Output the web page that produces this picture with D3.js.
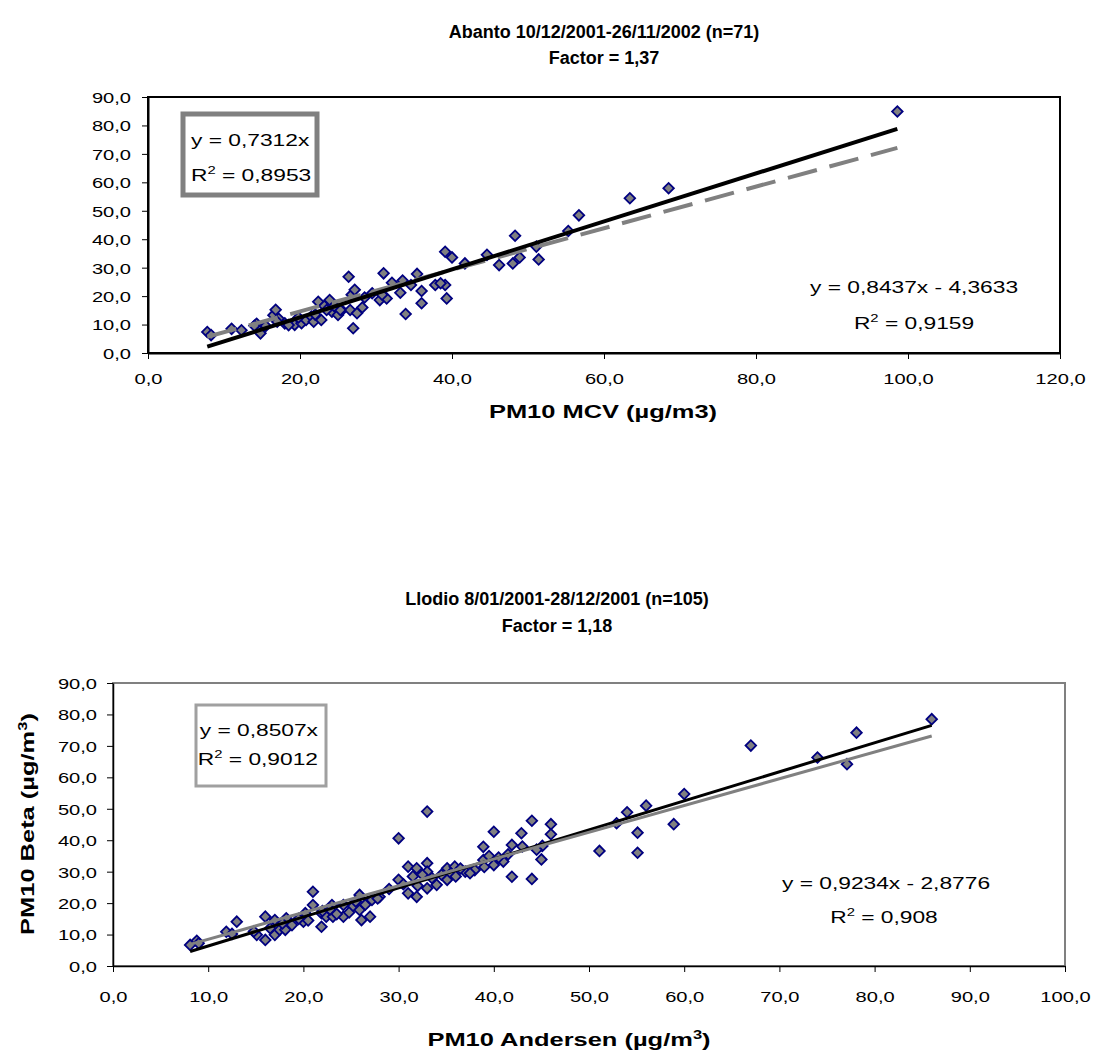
<!DOCTYPE html>
<html>
<head>
<meta charset="utf-8">
<script src="https://cdn.jsdelivr.net/npm/d3@7"></script>
<style>
  body { margin: 0; background: #fff; }
  text { font-family: "Liberation Sans", Arial, sans-serif; fill: #000; }
</style>
</head>
<body>
<div id="chart"></div>
<script>
// Abanto: PM10 MCV (x) vs PM10 Beta (y)
const abantoX = [7.8, 8.3, 11.0, 12.3, 14.3, 14.8, 15.5, 16.5, 16.8, 17.2, 18.0, 19.3, 20.2,
  20.8, 21.5, 21.8, 22.4, 22.8, 23.2, 23.9, 24.2, 25.0, 25.5, 26.4, 26.6, 26.8, 27.2, 27.5, 27.0, 28.2,
  30.5, 31.0, 31.4, 32.1, 33.2, 33.9, 34.6, 35.4, 36.0, 36.0, 37.8, 39.1, 39.3, 39.1, 40.0, 41.7,
  44.6, 46.2, 48.0, 48.9, 48.3, 51.4, 51.1, 55.3, 56.7, 63.4, 68.5, 98.6,
  23.5, 25.3, 18.5, 14.0, 17.0, 19.8, 22.0, 24.5, 28.5, 29.5, 30.8, 33.5, 38.5];
const abantoY = [7.4, 6.3, 8.5, 8.0, 10.3, 6.9, 9.5, 13.3, 15.2, 12.0, 10.4, 9.9, 10.5,
  11.6, 12.8, 11.0, 18.0, 11.6, 16.5, 18.6, 14.5, 13.4, 15.0, 26.8, 15.1, 20.5, 22.2, 14.0, 8.7, 16.0,
  18.6, 28.0, 19.2, 24.7, 21.2, 13.7, 23.9, 27.8, 21.8, 17.5, 23.9, 23.9, 19.2, 35.6, 33.6, 31.5,
  34.5, 30.9, 31.5, 33.6, 41.2, 32.9, 37.4, 42.9, 48.4, 54.4, 57.9, 84.9,
  15.1, 15.1, 9.8, 9.6, 11.0, 12.5, 13.5, 16.5, 19.5, 21.0, 20.5, 25.5, 24.5];

// Llodio: PM10 Andersen (x) vs PM10 Beta (y)
const llodioX = [8.1, 8.8, 11.9, 13.0, 15.1, 16.0, 16.0, 17.0, 17.0, 17.5, 18.1, 18.2, 20.0, 20.2, 21.0,
  21.0, 21.9, 21.9, 22.4, 23.0, 23.1, 24.2, 24.2, 25.2, 25.9, 25.9, 26.1, 27.0, 27.2, 28.0,
  30.0, 30.0, 31.0, 31.0, 31.9, 31.9, 33.0, 33.0, 33.0, 33.0, 34.0, 35.1, 35.1, 35.9, 37.0,
  38.0, 38.9, 38.9, 40.0, 40.0, 41.0, 41.9, 41.9, 42.9, 44.0, 44.0, 45.0, 45.1, 46.0, 46.0,
  51.1, 52.9, 54.0, 55.1, 55.1, 56.0, 58.9, 60.0, 67.0, 74.0, 77.1, 78.1, 86.0,
  9.0, 12.5, 14.8, 16.5, 17.8, 18.8, 19.5, 20.5, 22.0, 22.8, 23.5, 24.8, 25.5, 26.5, 27.8, 29.0,
  30.5, 31.5, 32.0, 32.5, 33.5, 34.5, 35.5, 36.5, 37.5, 39.0, 39.5, 40.5, 41.5, 43.0, 44.5, 36.0];
const llodioY = [6.7, 8.0, 10.9, 14.1, 9.9, 15.7, 8.3, 14.6, 9.9, 11.5, 11.5, 15.2, 14.1, 16.8, 23.6,
  19.4, 16.8, 12.5, 15.7, 19.4, 15.7, 15.7, 19.4, 18.9, 22.6, 17.8, 14.6, 15.7, 21.0, 22.0,
  40.6, 27.4, 31.6, 23.1, 31.1, 22.0, 49.1, 32.7, 30.0, 24.7, 25.8, 27.4, 31.1, 31.6, 30.0,
  30.5, 37.9, 33.7, 42.7, 32.1, 33.2, 38.5, 28.4, 42.2, 46.2, 27.7, 33.9, 38.2, 45.1, 41.9,
  36.6, 45.4, 48.9, 42.4, 36.0, 51.0, 45.1, 54.7, 70.1, 66.3, 64.2, 74.2, 78.5,
  7.2, 10.2, 11.0, 12.0, 13.5, 13.0, 15.0, 14.5, 17.5, 18.0, 16.5, 17.0, 20.5, 19.5, 21.5, 24.5,
  26.0, 28.5, 25.5, 29.0, 28.0, 29.0, 29.5, 31.0, 29.5, 31.5, 35.0, 34.5, 35.5, 38.0, 37.0, 28.5];

// trendlines: [slope, intercept]
const abantoFit = [0.8437, -4.3633];
const abantoFit0 = [0.7312, 0];
const llodioFit = [0.9234, -2.8776];
const llodioFit0 = [0.8507, 0];

const abantoXTicks = [0, 20, 40, 60, 80, 100, 120];
const llodioXTicks = [0, 10, 20, 30, 40, 50, 60, 70, 80, 90, 100];
const yTicks = [0, 10, 20, 30, 40, 50, 60, 70, 80, 90];

const fmt = d => d.toFixed(1).replace(".", ",");
const K = 1.34; // the original chart text is stretched sideways

const svg = d3.select("#chart").append("svg")
  .attr("width", 1094).attr("height", 1054);

// text placed at (x,y), widened by k
function label(x, y, anchor, size, bold, k, extra) {
  return svg.append("text")
    .attr("transform", "translate(" + x + "," + y + ")" + (extra || "") + " scale(" + k + ",1)")
    .attr("text-anchor", anchor)
    .style("font-size", size + "px")
    .style("font-weight", bold ? "bold" : "normal");
}

function sup(sel, base, s, rest) {
  sel.append("tspan").text(base);
  sel.append("tspan").attr("dy", -7).style("font-size", "0.65em").text(s);
  sel.append("tspan").attr("dy", 7).text(rest);
  return sel;
}

function drawChart(opt) {
  const x = d3.scaleLinear().domain(opt.xDomain).range([opt.left, opt.right]);
  const y = d3.scaleLinear().domain([0, 90]).range([opt.bottom, opt.top]);
  const g = svg.append("g");

  g.append("rect")
    .attr("x", opt.left).attr("y", opt.top)
    .attr("width", opt.right - opt.left).attr("height", opt.bottom - opt.top)
    .attr("fill", "none").attr("stroke", opt.frameColor).attr("stroke-width", opt.frameWidth);

  const xAxis = g.append("g")
    .attr("transform", "translate(0," + opt.bottom + ")")
    .call(d3.axisBottom(x).tickValues(opt.xTicks).tickFormat(fmt).tickSize(6).tickSizeOuter(0));
  const yAxis = g.append("g")
    .attr("transform", "translate(" + opt.left + ",0)")
    .call(d3.axisLeft(y).tickValues(yTicks).tickFormat(fmt).tickSize(6).tickSizeOuter(0));
  [xAxis, yAxis].forEach(a => {
    a.select(".domain").attr("stroke", "#000").attr("stroke-width", opt.axisWidth);
    a.selectAll(".tick line").attr("stroke", "#000");
    a.selectAll("text").style("font-size", "15px").attr("font-family", null)
      .attr("transform", "scale(" + K + ",1)");
  });
  xAxis.selectAll("text").attr("y", opt.xLabelDy).attr("dy", null);
  yAxis.selectAll("text").attr("x", -opt.yLabelGap / K).attr("dy", "0.36em");

  g.selectAll(".pt")
    .data(opt.xs.map((d, i) => [d, opt.ys[i]]))
    .enter().append("path")
    .attr("class", "pt")
    .attr("d", d3.symbol(d3.symbolSquare, 56))
    .attr("transform", d => "translate(" + x(d[0]) + "," + y(d[1]) + ") rotate(45)")
    .attr("fill", "#808080").attr("stroke", "#000080").attr("stroke-width", 1.8);

  const x0 = d3.min(opt.xs), x1 = d3.max(opt.xs);
  opt.lines.forEach(l => {
    g.append("line")
      .attr("x1", x(x0)).attr("y1", y(l.fit[0] * x0 + l.fit[1]))
      .attr("x2", x(x1)).attr("y2", y(l.fit[0] * x1 + l.fit[1]))
      .attr("stroke", l.color).attr("stroke-width", l.width)
      .attr("stroke-dasharray", l.dash || null);
  });
}

// ---- Abanto ----
drawChart({
  left: 148, right: 1060, top: 97, bottom: 353,
  xDomain: [0, 120], xTicks: abantoXTicks,
  xs: abantoX, ys: abantoY,
  frameColor: "#000", frameWidth: 2, axisWidth: 2,
  xLabelDy: 31, yLabelGap: 17,
  lines: [
    { fit: abantoFit0, color: "#808080", width: 4, dash: "30,13" },
    { fit: abantoFit, color: "#000", width: 4 }
  ]
});
label(604, 38, "middle", 18, true, 1).text("Abanto 10/12/2001-26/11/2002 (n=71)");
label(604, 64, "middle", 18, true, 1).text("Factor = 1,37");
label(603, 418, "middle", 19, true, K).text("PM10 MCV (\u00b5g/m3)");

svg.append("rect").attr("x", 183).attr("y", 114).attr("width", 134).attr("height", 81)
  .attr("fill", "#fff").attr("stroke", "#808080").attr("stroke-width", 5);
label(191, 146, "start", 17, false, K).text("y = 0,7312x");
sup(label(191, 181, "start", 17, false, K), "R", "2", " = 0,8953");

label(914, 293, "middle", 17, false, K).text("y = 0,8437x - 4,3633");
sup(label(914, 329, "middle", 17, false, K), "R", "2", " = 0,9159");

// ---- Llodio ----
drawChart({
  left: 113, right: 1065, top: 683, bottom: 966,
  xDomain: [0, 100], xTicks: llodioXTicks,
  xs: llodioX, ys: llodioY,
  frameColor: "#808080", frameWidth: 2, axisWidth: 1.5,
  xLabelDy: 36, yLabelGap: 16,
  lines: [
    { fit: llodioFit, color: "#000", width: 3 },
    { fit: llodioFit0, color: "#808080", width: 3 }
  ]
});
label(557, 605, "middle", 18, true, 1).text("Llodio 8/01/2001-28/12/2001 (n=105)");
label(557, 632, "middle", 18, true, 1).text("Factor = 1,18");

sup(label(569, 1046, "middle", 19, true, K), "PM10 Andersen (\u00b5g/m", "3", ")");
sup(label(34, 824, "middle", 19, true, K, " rotate(-90)"), "PM10 Beta (\u00b5g/m", "3", ")");

svg.append("rect").attr("x", 196).attr("y", 705).attr("width", 130).attr("height", 81)
  .attr("fill", "#fff").attr("stroke", "#a0a0a0").attr("stroke-width", 3);
label(318, 736, "end", 17, false, K).text("y = 0,8507x");
sup(label(318, 765, "end", 17, false, K), "R", "2", " = 0,9012");

label(886, 889, "middle", 17, false, K).text("y = 0,9234x - 2,8776");
sup(label(884, 923, "middle", 17, false, K), "R", "2", " = 0,908");
</script>
</body>
</html>
